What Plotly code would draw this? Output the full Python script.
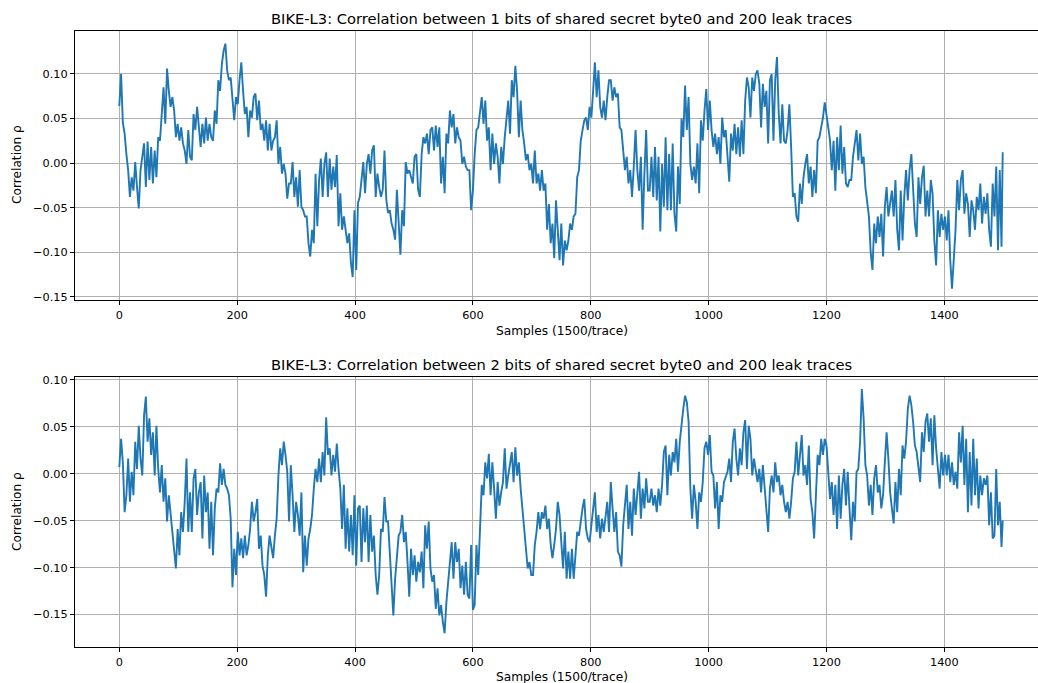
import plotly.graph_objects as go

# Sample index of every stored correlation value (every 3rd sample plus the last one)
samples = list(range(0, 1500, 3)) + [1499]

# Correlation for 1 bit of shared secret byte0
rho_1bit = [
    0.064, 0.100, 0.045, 0.033, 0.010, -0.008, -0.038, -0.016, -0.031, 0.001,
    -0.027, -0.051, -0.008, 0.007, 0.022, -0.027, 0.024, -0.019, 0.018, -0.023,
    0.014, -0.016, 0.029, 0.025, 0.063, 0.085, 0.044, 0.106, 0.081, 0.063,
    0.074, 0.059, 0.029, 0.044, 0.025, 0.040, 0.022, 0.014, -0.001, 0.037,
    0.007, 0.003, 0.055, 0.037, 0.063, 0.040, 0.018, 0.044, 0.022, 0.051,
    0.025, 0.044, 0.029, 0.025, 0.059, 0.044, 0.093, 0.081, 0.111, 0.126,
    0.134, 0.104, 0.093, 0.096, 0.070, 0.048, 0.074, 0.066, 0.093, 0.113,
    0.081, 0.055, 0.063, 0.029, 0.059, 0.051, 0.074, 0.078, 0.048, 0.070,
    0.037, 0.044, 0.025, 0.048, 0.014, 0.044, 0.014, 0.025, 0.029, 0.048,
    -0.001, 0.018, -0.012, -0.001, -0.012, -0.040,
    -0.023, -0.023, 0.001, -0.038, -0.016, -0.049, -0.008, -0.049, -0.053, -0.060,
    -0.060, -0.090, -0.105, -0.075, -0.090, -0.012, -0.071, -0.019, 0.005, -0.038,
    -0.001, 0.012, -0.038, 0.005, -0.030, -0.004, -0.027, 0.009, -0.071, -0.034,
    -0.075, -0.060, -0.075, -0.090, -0.079, -0.112, -0.128, -0.053, -0.120, -0.045,
    -0.038, -0.019, 0.001, -0.034, -0.001, 0.010, -0.012, 0.014, 0.020, -0.038,
    -0.012, -0.027, -0.038, -0.030, 0.014, -0.041, -0.056, -0.053, -0.068, -0.075,
    -0.086, -0.030, -0.064, -0.103, -0.053, -0.071, 0.001, -0.012, -0.008, -0.016,
    -0.023, 0.007, 0.010, -0.030, -0.038, 0.010, 0.029, 0.022, 0.033, 0.010,
    0.037, 0.040, 0.014, 0.042, 0.018, 0.040, -0.023, 0.007, -0.034, 0.033,
    0.022, 0.059, 0.040, 0.055, 0.022, 0.040, 0.029, 0.025, -0.001, 0.007,
    -0.004, -0.008,
    -0.008, -0.053, -0.031, 0.010, 0.037, 0.040, 0.059, 0.074, 0.044, 0.070,
    0.025, 0.040, -0.008, 0.033, -0.001, 0.022, 0.007, -0.023, 0.018, -0.001,
    0.029, 0.051, 0.070, 0.033, 0.093, 0.074, 0.109, 0.081, 0.029, 0.070,
    0.037, 0.022, 0.003, 0.010, -0.008, -0.001, -0.023, 0.014, -0.023, -0.012,
    -0.031, -0.008, -0.031, -0.023, -0.075, -0.046, -0.090, -0.068, -0.107, -0.042,
    -0.083, -0.109, -0.068, -0.115, -0.087, -0.098, -0.087, -0.068, -0.075, -0.060,
    -0.057, -0.016, -0.008, 0.025, 0.037, 0.048, 0.051, 0.037, 0.063, 0.051,
    0.081, 0.113, 0.074, 0.104, 0.063, 0.051, 0.070, 0.048, 0.074, 0.093,
    0.093, 0.070, 0.085, 0.074, 0.078, 0.040, 0.037, 0.018, -0.008, 0.007,
    -0.023, -0.008, -0.038, -0.004, 0.037, -0.008, -0.031, 0.007, -0.075, -0.012,
    0.037, -0.031,
    -0.031, 0.007, -0.038, 0.018, -0.042, 0.007, -0.077, -0.001, -0.049, 0.029,
    -0.053, 0.010, -0.053, 0.022, -0.057, -0.077, -0.004, -0.046, 0.050, 0.029,
    0.087, 0.037, 0.074, -0.001, -0.019, -0.004, -0.023, 0.022, -0.034, 0.048,
    0.025, 0.059, 0.083, 0.037, 0.070, 0.037, 0.018, 0.033, 0.010, 0.029,
    -0.001, 0.051, 0.029, 0.037, 0.007, -0.021, 0.033, 0.014, 0.044, 0.010,
    0.040, 0.007, 0.048, 0.010, 0.070, 0.096, 0.085, 0.051, 0.096, 0.081,
    0.100, 0.104, 0.089, 0.040, 0.089, 0.063, 0.081, 0.022, 0.093, 0.100,
    0.025, 0.093, 0.119, 0.055, 0.022, 0.066, 0.025, 0.022, 0.037, 0.066,
    0.018, -0.038, -0.034, -0.060, -0.066, -0.023, -0.046, -0.016, -0.001, 0.010,
    -0.023, -0.004, -0.038, -0.008, -0.034, 0.025, 0.029, 0.040, 0.051, 0.068,
    0.051, 0.040, 0.025, -0.008, 0.025, -0.031, 0.029, -0.008, 0.042, -0.012,
    0.018, -0.023, -0.027, -0.019, -0.019, 0.007, 0.022, 0.037, 0.003, 0.033,
    -0.001, 0.007, -0.027, -0.042, -0.060, -0.100, -0.120, -0.068, -0.090, -0.060,
    -0.083, -0.057, -0.105, -0.049, -0.027, -0.060, -0.042, -0.031, -0.060, -0.019,
    -0.075, -0.098, -0.031, -0.087, -0.038, -0.008, -0.042, -0.008, 0.010, -0.038,
    -0.068, -0.083, -0.016, -0.046, -0.016, -0.003, -0.060, -0.031, -0.060, -0.019,
    -0.034, -0.087, -0.115, -0.053, -0.083, -0.057, -0.075, -0.060, -0.087, -0.053,
    -0.109, -0.141, -0.109, -0.075, -0.019, -0.053, -0.019, -0.008, -0.057, -0.034,
    -0.046, -0.083, -0.042, -0.053, -0.075, -0.038, -0.053, -0.023, -0.068, -0.038,
    -0.057, -0.034, -0.075, -0.094, -0.023, -0.060, -0.004, -0.098, -0.008, -0.094,
    0.012,
]

# Correlation for 2 bits of shared secret byte0
rho_2bit = [
    0.007, 0.037, 0.012, -0.041, -0.023, 0.016, -0.030, 0.002, -0.023, 0.034,
    0.005, 0.051, 0.016, -0.002, 0.062, 0.082, 0.034, 0.059, 0.020, 0.044,
    -0.002, 0.051, 0.005, -0.020, 0.009, -0.030, -0.005, -0.051, -0.023, -0.044,
    -0.059, -0.080, -0.101, -0.059, -0.087, -0.041, -0.062, -0.030, 0.016, -0.062,
    -0.020, -0.062, -0.005, 0.005, -0.044, -0.020, -0.009, -0.069, -0.002, -0.041,
    -0.020, -0.080, -0.030, -0.087, -0.037, -0.016, -0.020, 0.011, -0.012, 0.005,
    -0.012, -0.016, -0.023, -0.048, -0.121, -0.080, -0.108, -0.062, -0.087, -0.069,
    -0.090, -0.066, -0.087, -0.076, -0.059, -0.030, -0.051, -0.041, -0.027, -0.080,
    -0.066, -0.098, -0.108, -0.131, -0.087, -0.066, -0.080, -0.090, -0.066, -0.048,
    -0.002, 0.027, 0.009, 0.034, 0.020, 0.002,
    -0.051, 0.009, -0.023, -0.062, -0.030, -0.044, -0.066, -0.020, -0.105, -0.066,
    -0.098, -0.069, -0.059, -0.044, -0.016, 0.005, -0.009, 0.016, -0.009, 0.023,
    -0.002, 0.060, 0.020, 0.027, -0.002, 0.020, 0.002, 0.032, 0.005, -0.016,
    -0.059, -0.012, -0.080, -0.037, -0.083, -0.044, -0.087, -0.023, -0.098, -0.037,
    -0.034, -0.094, -0.037, -0.073, -0.034, -0.094, -0.044, -0.083, -0.066, -0.108,
    -0.129, -0.108, -0.059, -0.062, -0.025, -0.051, -0.051, -0.087, -0.108, -0.151,
    -0.112, -0.087, -0.066, -0.062, -0.044, -0.073, -0.062, -0.094, -0.131, -0.080,
    -0.108, -0.087, -0.115, -0.094, -0.105, -0.083, -0.122, -0.055, -0.080, -0.051,
    -0.101, -0.115, -0.108, -0.144, -0.122, -0.151, -0.140, -0.158, -0.170, -0.137,
    -0.115, -0.094, -0.073, -0.112, -0.073, -0.094, -0.080, -0.122, -0.098, -0.129,
    -0.094, -0.129,
    -0.133, -0.076, -0.145, -0.140, -0.076, -0.108, -0.062, -0.012, -0.023, 0.012,
    -0.005, 0.021, -0.023, 0.012, -0.016, -0.048, -0.009, -0.034, -0.020, -0.009,
    0.027, -0.016, -0.002, 0.012, 0.023, -0.009, 0.028, -0.002, 0.012, -0.016,
    -0.037, -0.051, -0.080, -0.101, -0.094, -0.108, -0.108, -0.076, -0.062, -0.041,
    -0.059, -0.041, -0.048, -0.034, -0.059, -0.048, -0.076, -0.090, -0.076, -0.059,
    -0.030, -0.044, -0.073, -0.101, -0.062, -0.112, -0.083, -0.112, -0.080, -0.112,
    -0.087, -0.062, -0.066, -0.048, -0.037, -0.027, -0.059, -0.069, -0.073, -0.055,
    -0.037, -0.020, -0.062, -0.044, -0.069, -0.048, -0.062, -0.048, -0.030, -0.062,
    -0.009, -0.037, -0.062, -0.041, -0.083, -0.087, -0.099, -0.055, -0.037, -0.012,
    -0.059, -0.030, -0.066, -0.016, -0.044, -0.020, 0.002, -0.048, -0.016, -0.037,
    -0.005, -0.030,
    -0.030, -0.016, -0.034, -0.023, -0.041, -0.016, -0.034, -0.012, 0.023, 0.030,
    -0.023, 0.020, -0.002, 0.023, 0.012, 0.037, 0.002, 0.034, 0.055, 0.069,
    0.083, 0.076, 0.055, -0.016, -0.048, -0.012, -0.030, -0.059, -0.020, -0.030,
    -0.009, 0.027, 0.034, 0.020, 0.041, 0.002, -0.002, -0.037, -0.009, -0.059,
    -0.023, -0.030, -0.009, -0.002, 0.002, 0.016, -0.009, 0.034, 0.048, 0.016,
    -0.002, 0.027, 0.009, 0.044, 0.057, 0.005, 0.051, 0.037, -0.002, 0.016,
    0.002, -0.009, 0.005, -0.020, 0.009, -0.012, -0.037, -0.062, -0.016, -0.002,
    -0.020, 0.012, -0.009, -0.002, -0.023, -0.012, -0.030, -0.041, -0.030, -0.048,
    -0.030, -0.005, 0.002, 0.034, -0.002, 0.023, 0.041, -0.002, 0.009, -0.012,
    0.030, -0.027, -0.041, -0.069, -0.030, 0.020, 0.009, 0.037, 0.020, 0.037,
    0.030, 0.002, -0.027, -0.009, -0.044, -0.012, -0.059, -0.002, -0.048, -0.012,
    0.005, -0.034, 0.002, -0.037, -0.071, -0.030, -0.051, 0.002, 0.005, 0.034,
    0.090, 0.059, 0.009, -0.002, -0.034, -0.012, -0.044, -0.005, 0.009, -0.020,
    -0.012, -0.037, -0.023, 0.012, 0.044, 0.016, -0.020, -0.037, -0.053, -0.009,
    -0.041, 0.005, -0.023, 0.030, 0.016, 0.034, 0.069, 0.083, 0.073, 0.055,
    0.030, 0.023, 0.009, -0.009, 0.044, 0.023, 0.055, 0.064, 0.034, 0.059,
    0.009, 0.062, 0.027, 0.002, -0.016, 0.023, -0.002, 0.020, -0.002, 0.020,
    -0.009, 0.012, -0.012, 0.002, -0.016, 0.044, 0.012, 0.051, -0.012, 0.037,
    -0.041, 0.023, -0.034, 0.037, -0.023, 0.016, -0.037, -0.002, -0.023, -0.005,
    -0.012, -0.002, -0.055, -0.020, -0.069, -0.066, 0.005, -0.055, -0.030, -0.078,
    -0.050,
]

titles = [
    "BIKE-L3: Correlation between 1 bits of shared secret byte0 and 200 leak traces",
    "BIKE-L3: Correlation between 2 bits of shared secret byte0 and 200 leak traces",
]
x_label = "Samples (1500/trace)"
y_label = "Correlation \u03c1"

x_ticks = [0, 200, 400, 600, 800, 1000, 1200, 1400]
y_ticks = [0.10, 0.05, 0.00, -0.05, -0.10, -0.15]
y_tick_text = [f"{v:.2f}".replace("-", "\u2212") for v in y_ticks]

LINE = "#1f77b4"
GRID = "#b0b0b0"
FONT = "DejaVu Sans"

W, H = 1038, 683
ML, MR, MT, MB = 75, 0, 31, 36
plot_h = H - MT - MB
plot_w = W - ML - MR


def py(px):
    # pixel row -> paper y
    return (H - MB - px) / plot_h


def pxx(px):
    # pixel column -> paper x
    return (px - ML) / plot_w


fig = go.Figure()
fig.add_trace(go.Scatter(x=samples, y=rho_1bit, mode="lines",
                         line=dict(color=LINE, width=1.9), xaxis="x", yaxis="y"))
fig.add_trace(go.Scatter(x=samples, y=rho_2bit, mode="lines",
                         line=dict(color=LINE, width=1.9), xaxis="x2", yaxis="y2"))

axis_common = dict(
    showgrid=True, gridcolor=GRID, gridwidth=1, zeroline=False,
    showline=True, linecolor="black", linewidth=1,
    ticks="outside", ticklen=4, tickwidth=1, tickcolor="black",
    tickfont=dict(family=FONT, size=11.3, color="black"),
)
x_range = [-75.2, 1558.9]

fig.update_layout(
    width=W, height=H,
    margin=dict(l=ML, r=MR, t=MT, b=MB),
    paper_bgcolor="white", plot_bgcolor="white",
    showlegend=False,
    xaxis=dict(domain=[0, 1], range=x_range, anchor="y", tickvals=x_ticks,
               mirror=True, **axis_common),
    yaxis=dict(domain=[py(300), 1], range=[-0.1538, 0.1482], anchor="x",
               tickvals=y_ticks, ticktext=y_tick_text, **axis_common),
    xaxis2=dict(domain=[0, 1], range=x_range, anchor="y2", tickvals=x_ticks,
                mirror=True, **axis_common),
    yaxis2=dict(domain=[0, py(376.7)], range=[-0.1846, 0.1032], anchor="x2",
                tickvals=y_ticks, ticktext=y_tick_text, **axis_common),
)

cx = pxx(561.5)
ann = []
for title, ty, xy, ycen in [(titles[0], 18, 331, 165), (titles[1], 364, 677, 512)]:
    ann.append(dict(text=title, x=cx, y=py(ty), xref="paper", yref="paper",
                    xanchor="center", yanchor="middle", showarrow=False,
                    font=dict(family=FONT, size=14.7, color="black")))
    ann.append(dict(text=x_label, x=cx, y=py(xy), xref="paper", yref="paper",
                    xanchor="center", yanchor="middle", showarrow=False,
                    font=dict(family=FONT, size=12.2, color="black")))
    ann.append(dict(text=y_label, x=pxx(17), y=py(ycen), xref="paper", yref="paper",
                    xanchor="center", yanchor="middle", showarrow=False, textangle=-90,
                    font=dict(family=FONT, size=12.2, color="black")))
fig.update_layout(annotations=ann)

fig.write_html("out.html")
